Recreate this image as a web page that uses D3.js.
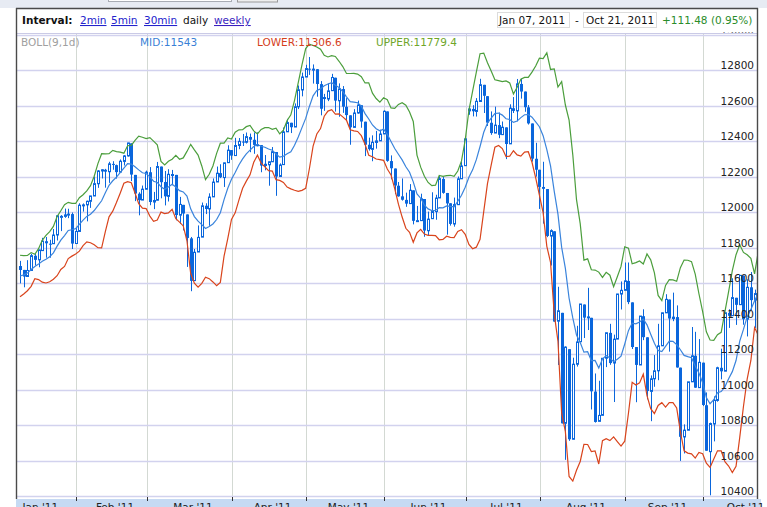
<!DOCTYPE html>
<html>
<head>
<meta charset="utf-8">
<title>DJIA daily with Bollinger bands</title>
<script src="https://d3js.org/d3.v7.min.js"></script>
<style>
  html, body { margin: 0; padding: 0; background: #fff; }
  svg { display: block; font-family: "DejaVu Sans", Verdana, sans-serif; }
</style>
</head>
<body>
<svg id="chart" width="767" height="507"></svg>
<script>
// trading days shown, Jan 07 2011 - Oct 21 2011
const dates = [
  '2011-01-07','2011-01-10','2011-01-11','2011-01-12','2011-01-13','2011-01-14','2011-01-18','2011-01-19','2011-01-20','2011-01-21','2011-01-24','2011-01-25','2011-01-26','2011-01-27','2011-01-28','2011-01-31',
  '2011-02-01','2011-02-02','2011-02-03','2011-02-04','2011-02-07','2011-02-08','2011-02-09','2011-02-10','2011-02-11','2011-02-14','2011-02-15','2011-02-16','2011-02-17','2011-02-18','2011-02-22','2011-02-23','2011-02-24','2011-02-25','2011-02-28',
  '2011-03-01','2011-03-02','2011-03-03','2011-03-04','2011-03-07','2011-03-08','2011-03-09','2011-03-10','2011-03-11','2011-03-14','2011-03-15','2011-03-16','2011-03-17','2011-03-18','2011-03-21','2011-03-22','2011-03-23','2011-03-24','2011-03-25','2011-03-28','2011-03-29','2011-03-30','2011-03-31',
  '2011-04-01','2011-04-04','2011-04-05','2011-04-06','2011-04-07','2011-04-08','2011-04-11','2011-04-12','2011-04-13','2011-04-14','2011-04-15','2011-04-18','2011-04-19','2011-04-20','2011-04-21','2011-04-25','2011-04-26','2011-04-27','2011-04-28','2011-04-29',
  '2011-05-02','2011-05-03','2011-05-04','2011-05-05','2011-05-06','2011-05-09','2011-05-10','2011-05-11','2011-05-12','2011-05-13','2011-05-16','2011-05-17','2011-05-18','2011-05-19','2011-05-20','2011-05-23','2011-05-24','2011-05-25','2011-05-26','2011-05-27','2011-05-31',
  '2011-06-01','2011-06-02','2011-06-03','2011-06-06','2011-06-07','2011-06-08','2011-06-09','2011-06-10','2011-06-13','2011-06-14','2011-06-15','2011-06-16','2011-06-17','2011-06-20','2011-06-21','2011-06-22','2011-06-23','2011-06-24','2011-06-27','2011-06-28','2011-06-29','2011-06-30',
  '2011-07-01','2011-07-05','2011-07-06','2011-07-07','2011-07-08','2011-07-11','2011-07-12','2011-07-13','2011-07-14','2011-07-15','2011-07-18','2011-07-19','2011-07-20','2011-07-21','2011-07-22','2011-07-25','2011-07-26','2011-07-27','2011-07-28','2011-07-29',
  '2011-08-01','2011-08-02','2011-08-03','2011-08-04','2011-08-05','2011-08-08','2011-08-09','2011-08-10','2011-08-11','2011-08-12','2011-08-15','2011-08-16','2011-08-17','2011-08-18','2011-08-19','2011-08-22','2011-08-23','2011-08-24','2011-08-25','2011-08-26','2011-08-29','2011-08-30','2011-08-31',
  '2011-09-01','2011-09-02','2011-09-06','2011-09-07','2011-09-08','2011-09-09','2011-09-12','2011-09-13','2011-09-14','2011-09-15','2011-09-16','2011-09-19','2011-09-20','2011-09-21','2011-09-22','2011-09-23','2011-09-26','2011-09-27','2011-09-28','2011-09-29','2011-09-30',
  '2011-10-03','2011-10-04','2011-10-05','2011-10-06','2011-10-07','2011-10-10','2011-10-11','2011-10-12','2011-10-13','2011-10-14','2011-10-17','2011-10-18','2011-10-19','2011-10-20','2011-10-21'
];

const open = [
  11697,11675,11638,11672,11755,11732,11784,11837,11823,11823,11872,11977,11977,11985,11990,11824,
  11892,12040,12042,12062,12092,12161,12233,12240,12229,12273,12266,12227,12287,12318,12389,12211,12105,12069,12130,
  12226,12058,12068,12258,12171,12090,12213,12211,11984,12042,11988,11853,11615,11776,11860,12037,12019,12087,12171,12221,12196,12280,12351,
  12320,12377,12399,12395,12425,12409,12381,12379,12264,12268,12285,12340,12202,12269,12454,12505,12481,12595,12690,12763,
  12810,12806,12807,12723,12650,12639,12686,12759,12629,12695,12595,12547,12479,12560,12604,12511,12381,12355,12394,12403,12442,
  12569,12289,12247,12150,12090,12070,12049,12124,11952,11953,12075,11896,11964,12004,12081,12188,12109,12051,11934,12043,12189,12263,
  12572,12583,12569,12625,12719,12655,12505,12447,12492,12438,12479,12386,12587,12572,12724,12681,12592,12501,12302,12240,
  12143,12131,11866,11893,11386,11433,10810,11228,10720,11143,11270,11480,11406,11405,10989,10821,10855,11177,11320,11150,11285,11539,11560,
  11613,11492,11240,11139,11414,11295,10990,11061,11106,11247,11433,11508,11401,11409,11124,10733,10771,11044,11191,11011,11152,
  10912,10650,10806,10939,11123,11104,11433,11417,11518,11479,11643,11397,11577,11505,11543
];

const high = [
  11726,11675,11730,11766,11767,11790,11856,11861,11845,11906,11981,11984,12021,12020,11999,11918,
  12051,12050,12066,12093,12202,12238,12243,12245,12285,12288,12269,12298,12323,12392,12389,12211,12113,12151,12235,
  12255,12115,12284,12258,12233,12243,12239,12211,12087,12042,11988,11861,11793,11926,12055,12051,12107,12191,12258,12271,12280,12378,12351,
  12420,12419,12442,12450,12444,12451,12451,12379,12323,12286,12368,12340,12276,12478,12527,12505,12614,12715,12788,12832,
  12876,12834,12808,12740,12668,12727,12781,12759,12727,12712,12644,12547,12582,12630,12604,12511,12421,12434,12459,12466,12575,
  12569,12321,12247,12171,12191,12111,12159,12124,12036,12105,12075,12004,12113,12099,12204,12200,12109,12051,12083,12202,12285,12424,
  12599,12604,12644,12753,12719,12655,12569,12596,12563,12512,12479,12609,12650,12752,12754,12681,12605,12501,12392,12240,
  12285,12131,11904,11893,11580,11433,11244,11228,11180,11360,11483,11480,11574,11405,11091,11050,11177,11321,11371,11310,11540,11610,11717,
  11717,11492,11240,11415,11453,11295,11080,11195,11371,11434,11538,11508,11547,11475,11124,10804,11044,11353,11326,11285,11152,
  10984,10814,10962,11129,11231,11434,11453,11628,11518,11645,11643,11622,11663,11564,11828
];

const low = [
  11599,11577,11638,11672,11700,11690,11783,11744,11744,11822,11841,11894,11969,11967,11793,11822,
  11892,12004,11949,12025,12092,12138,12191,12139,12166,12240,12190,12226,12264,12314,12176,12063,11983,12069,12130,
  12040,12018,12068,12079,12039,12061,12153,11955,11934,11898,11692,11555,11615,11776,11860,11990,11924,12087,12171,12193,12143,12280,12296,
  12320,12356,12374,12388,12339,12330,12372,12226,12237,12150,12285,12093,12202,12269,12454,12447,12481,12582,12654,12763,
  12775,12726,12652,12547,12572,12627,12686,12568,12539,12561,12517,12381,12479,12556,12477,12317,12348,12288,12359,12403,12442,
  12285,12186,12102,12088,12066,12031,12049,11932,11947,11953,11862,11872,11964,11958,12081,12105,11874,11925,11919,12043,12189,12263,
  12550,12541,12540,12625,12560,12487,12437,12447,12418,12438,12300,12386,12560,12513,12641,12567,12495,12286,12201,12019,
  11936,11860,11700,11383,11139,10809,10604,10711,10720,11130,11270,11291,11336,10888,10814,10821,10855,11127,11140,10930,11285,11452,11560,
  11482,11229,10929,11139,11279,10945,10822,11016,11053,11247,11433,11214,11386,11124,10598,10640,10771,11044,11010,11011,10907,
  10655,10404,10708,10932,11058,11104,11348,11417,11365,11479,11366,11300,11448,11348,11543
];

const close = [
  11674.76,11637.45,11671.88,11755.44,11731.90,11787.38,11837.93,11825.29,11822.80,11871.84,11980.52,11977.19,11985.44,11989.83,11823.70,11891.93,
  12040.16,12041.97,12062.26,12092.15,12161.63,12233.15,12239.89,12229.29,12273.26,12268.19,12226.64,12288.17,12318.14,12391.25,12212.79,12105.78,12068.50,12130.45,12226.34,
  12058.02,12066.80,12258.20,12169.88,12090.03,12214.38,12213.09,11984.61,12044.40,11993.16,11855.42,11613.30,11774.59,11858.52,12036.53,12018.63,12086.02,12170.56,12220.59,12197.88,12279.01,12350.61,12319.73,
  12376.72,12400.03,12393.90,12426.75,12409.49,12380.05,12381.11,12263.58,12270.99,12285.15,12341.83,12201.59,12266.75,12453.54,12505.99,12479.88,12595.37,12690.96,12763.31,12810.54,
  12807.36,12807.51,12723.58,12584.17,12638.74,12684.68,12760.36,12630.03,12695.92,12595.75,12548.37,12479.58,12560.18,12605.32,12512.04,12381.26,12356.21,12394.66,12402.76,12441.58,12569.79,
  12290.14,12248.55,12151.26,12089.96,12070.81,12048.94,12124.36,11951.91,11952.97,12076.11,11897.27,11961.52,12004.36,12080.38,12190.01,12109.67,12050.00,11934.58,12043.56,12188.69,12261.42,12414.34,
  12582.77,12569.87,12626.02,12719.49,12657.20,12505.76,12446.88,12491.61,12437.12,12479.73,12385.16,12587.42,12571.91,12724.41,12681.16,12592.80,12501.30,12302.55,12240.11,12143.24,
  12132.49,11866.62,11896.44,11383.68,11444.61,10809.85,11239.77,10719.94,11143.31,11269.02,11482.90,11405.93,11410.21,10990.58,10817.65,10854.65,11176.76,11320.71,11149.82,11284.54,11539.25,11559.95,11613.53,
  11493.57,11240.26,11139.30,11414.86,11295.81,10992.13,11061.12,11105.85,11246.73,11433.18,11509.09,11401.01,11408.66,11124.84,10733.83,10771.48,11043.86,11190.69,11010.90,11153.98,10913.38,
  10655.30,10808.71,10939.95,11123.33,11103.12,11433.18,11416.30,11518.85,11478.13,11644.49,11397.00,11577.05,11504.62,11541.78,11808.79
];

// closes of the 8 sessions before Jan 07 (Dec 28 - Jan 06), needed to start the 9-day bands
const warmupCloses = [11575.54,11585.38,11569.71,11577.51,11670.75,11691.18,11722.89,11697.31];

const yTicks = [10400,10600,10800,11000,11200,11400,11600,11800,12000,12200,12400,12600,12800,13000];

const intervals = ['2min','5min','30min','daily','weekly'];
const rangeStart = 'Jan 07, 2011';
const rangeEnd = 'Oct 21, 2011';
const rangeChange = '+111.48 (0.95%)';

// ---- Bollinger bands (9 periods, 2 standard deviations) ----
const period = 9;
const allCloses = warmupCloses.concat(close);
const mid = [], upper = [], lower = [];
close.forEach((c, i) => {
  const end = i + warmupCloses.length + 1;
  const win = allCloses.slice(end - period, end);
  const m = d3.mean(win);
  const sd = Math.sqrt(d3.mean(win, v => (v - m) * (v - m)));
  mid.push(m);
  upper.push(m + 2 * sd);
  lower.push(m - 2 * sd);
});

// ---- layout ----
const W = 767, H = 507;
const left = 16, right = 758, plotTop = 33, plotBottom = 497;
const blue = '#0a66dc';

const svg = d3.select('#chart');

// last session sits partly under the right frame, like the original
const x = d3.scaleBand().domain(dates).range([18.15, 760.15]);
const cx = d => x(d) + x.bandwidth() / 2;
const y = d3.scaleLinear().domain([10400, 13000]).range([496, 35]);
const gridX = d => Math.floor(x(d) - 1) + 0.5;

svg.append('defs').append('clipPath').attr('id', 'clip')
  .append('rect').attr('x', left).attr('y', plotTop).attr('width', right - left - 1).attr('height', plotBottom - plotTop);

// page strip above the chart box
svg.append('rect').attr('x', 0).attr('y', 0).attr('width', W).attr('height', 8).attr('fill', '#e7ebf3');
svg.append('rect').attr('x', 108.5).attr('y', -10).attr('width', 123).attr('height', 11.5)
  .attr('fill', '#fff').attr('stroke', '#a8acb4');
svg.append('rect').attr('x', 237.5).attr('y', -10).attr('width', 40).attr('height', 12)
  .attr('fill', '#eeeeee').attr('stroke', '#9a9a9a');

// month boundaries (first session of each month)
const parse = d3.timeParse('%Y-%m-%d');
const fmtMonth = d3.timeFormat("%b '%y");
const monthStarts = dates.filter((d, i) => i > 0 && parse(d).getMonth() !== parse(dates[i - 1]).getMonth());

const grid = svg.append('g');
grid.selectAll('line.v')
  .data(monthStarts)
  .join('line')
  .attr('class', 'v')
  .attr('x1', gridX)
  .attr('x2', gridX)
  .attr('y1', plotTop).attr('y2', plotBottom)
  .attr('stroke', '#d3d9d3');

grid.selectAll('line.h')
  .data(yTicks)
  .join('line')
  .attr('class', 'h')
  .attr('x1', left).attr('x2', right - 1)
  .attr('y1', d => Math.round(y(d)) + 0.5)
  .attr('y2', d => Math.round(y(d)) + 0.5)
  .attr('stroke', '#d2d2ee')
  .attr('stroke-width', 1.3);

// ---- candles ----
const plot = svg.append('g').attr('clip-path', 'url(#clip)');
const idx = d3.range(dates.length);

plot.selectAll('line.wick')
  .data(idx)
  .join('line')
  .attr('class', 'wick')
  .attr('x1', i => Math.round(cx(dates[i])) + 0.5)
  .attr('x2', i => Math.round(cx(dates[i])) + 0.5)
  .attr('y1', i => y(high[i]))
  .attr('y2', i => y(low[i]))
  .attr('stroke', blue);

plot.selectAll('rect.body')
  .data(idx)
  .join('rect')
  .attr('class', 'body')
  .each(function(i) {
    const px = Math.round(cx(dates[i]));
    const up = close[i] >= open[i];
    const yTop = y(Math.max(open[i], close[i]));
    const yBot = y(Math.min(open[i], close[i]));
    const r = d3.select(this);
    if (up) {
      r.attr('x', px - 0.5).attr('y', yTop).attr('width', 2).attr('height', Math.max(yBot - yTop, 1))
        .attr('fill', '#fff').attr('stroke', blue);
    } else {
      r.attr('x', px - 1).attr('y', yTop).attr('width', 3).attr('height', Math.max(yBot - yTop, 1))
        .attr('fill', blue);
    }
  });

// ---- bands ----
const line = d3.line().x((d, i) => cx(dates[i])).y(d => y(d));
[[upper, '#4b9e3c'], [mid, '#3a84dc'], [lower, '#d9441c']].forEach(([s, c]) => {
  plot.append('path').datum(s)
    .attr('d', line)
    .attr('fill', 'none')
    .attr('stroke', c)
    .attr('stroke-width', 1.2);
});

// ---- y labels ----
svg.append('g').selectAll('text')
  .data(yTicks)
  .join('text')
  .attr('x', 754)
  .attr('y', d => Math.round(y(d)) - 1.5)
  .attr('text-anchor', 'end')
  .attr('font-size', 10.5)
  .attr('fill', '#222')
  .text(d => d);

// ---- bottom date bar ----
svg.append('rect').attr('x', left).attr('y', 499).attr('width', 745).attr('height', 10).attr('fill', '#c6daf3');
svg.append('g').selectAll('line')
  .data(monthStarts)
  .join('line')
  .attr('x1', gridX)
  .attr('x2', gridX)
  .attr('y1', 497).attr('y2', 501)
  .attr('stroke', '#333');

const bx = monthStarts.map(gridX);
const avgMonth = (bx[bx.length - 1] - bx[0]) / (bx.length - 1);
const bounds = [bx[0] - avgMonth].concat(bx, [bx[bx.length - 1] + avgMonth]);
const monthNames = [parse(dates[0])].concat(monthStarts.map(parse)).map(fmtMonth);
svg.append('g').selectAll('text')
  .data(monthNames)
  .join('text')
  .attr('x', (d, i) => (bounds[i] + bounds[i + 1]) / 2 + 3)
  .attr('y', 511)
  .attr('text-anchor', 'middle')
  .attr('font-size', 10.5)
  .attr('fill', '#222')
  .text(d => d);

// ---- header ----
svg.append('rect').attr('x', left).attr('y', 8).attr('width', right - left).attr('height', 24.3).attr('fill', '#fff');
svg.append('line').attr('x1', left).attr('x2', right).attr('y1', 33.5).attr('y2', 33.5).attr('stroke', '#cacae6').attr('stroke-width', 1.2);

const hdr = svg.append('g').attr('font-size', 10.5);
hdr.append('text').attr('x', 22).attr('y', 24).attr('font-weight', 'bold').attr('fill', '#111').text('Interval:');
const ivX = [80, 111, 144, 183, 214];
intervals.forEach((t, i) => {
  const isLink = t !== 'daily';
  hdr.append('text').attr('x', ivX[i]).attr('y', 24)
    .attr('fill', isLink ? (t === 'weekly' ? '#3a1fc0' : '#2222cc') : '#111')
    .attr('text-decoration', isLink ? 'underline' : null)
    .text(t);
});

hdr.append('rect').attr('x', 497.5).attr('y', 12.5).attr('width', 72).attr('height', 15).attr('fill', '#fff').attr('stroke', '#dcdcdc');
hdr.append('text').attr('x', 499).attr('y', 24).attr('fill', '#111').text(rangeStart);
hdr.append('text').attr('x', 575).attr('y', 24).attr('fill', '#111').text('-');
hdr.append('rect').attr('x', 583.5).attr('y', 12.5).attr('width', 73).attr('height', 15).attr('fill', '#fff').attr('stroke', '#dcdcdc');
hdr.append('text').attr('x', 586).attr('y', 24).attr('fill', '#111').text(rangeEnd);
hdr.append('text').attr('x', 662).attr('y', 24).attr('fill', '#2a8c2a').text(rangeChange);

// ---- legend ----
const last = close.length - 1;
const leg = svg.append('g').attr('font-size', 10.5);
leg.append('text').attr('x', 21).attr('y', 46).attr('fill', '#a0a0a0').text('BOLL(' + period + ',1d)');
leg.append('text').attr('x', 140).attr('y', 46).attr('fill', '#3a7fd6').text('MID:' + (+mid[last].toFixed(1)));
leg.append('text').attr('x', 257).attr('y', 46).attr('fill', '#d4401c').text('LOWER:' + (+lower[last].toFixed(1)));
leg.append('text').attr('x', 376).attr('y', 46).attr('fill', '#6fa62a').text('UPPER:' + (+upper[last].toFixed(1)));

// ---- box borders ----
const border = svg.append('g').attr('stroke', '#4a4a4a').attr('stroke-width', 1.4);
border.append('line').attr('x1', left).attr('x2', right).attr('y1', 8.5).attr('y2', 8.5);
border.append('line').attr('x1', left + 0.5).attr('x2', left + 0.5).attr('y1', 8).attr('y2', 499);
border.append('line').attr('x1', right - 0.5).attr('x2', right - 0.5).attr('y1', 8).attr('y2', 499);
</script>
</body>
</html>
